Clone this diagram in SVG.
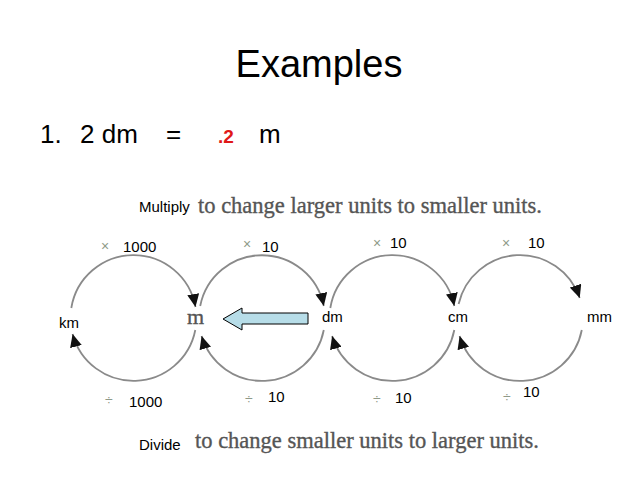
<svg xmlns="http://www.w3.org/2000/svg" width="638" height="479" viewBox="0 0 638 479">
<style>
.sans{font-family:"Liberation Sans",Arial,sans-serif;fill:#000}
.serif{font-family:"Liberation Serif","Times New Roman",serif;fill:#555;stroke:#555;stroke-width:0.35}
.sym{font-family:"Liberation Sans",Arial,sans-serif;fill:#8f9a88;font-size:14px}
.num{font-family:"Liberation Sans",Arial,sans-serif;fill:#000;font-size:15px}
.unit{font-family:"Liberation Sans",Arial,sans-serif;fill:#000;font-size:15px}
.arc{fill:none;stroke:#8a8a8a;stroke-width:1.8;marker-end:url(#ah)}
</style>
<defs>
<marker id="ah" markerUnits="userSpaceOnUse" markerWidth="14" markerHeight="12" refX="13" refY="6" orient="auto">
<path d="M0,0 L13,6 L0,12 z" fill="#111"/>
</marker>
</defs>
<rect width="638" height="479" fill="#fff"/>
<g id="title"><text class="sans" x="319" y="77" font-size="38" text-anchor="middle">Examples</text></g>
<g id="example">
<text class="sans" x="40" y="143" font-size="26">1.</text>
<text class="sans" x="80" y="143" font-size="26">2 dm</text>
<text class="sans" x="166" y="143" font-size="26">=</text>
<text x="218" y="143" font-size="19" font-weight="bold" fill="#e01818" font-family="Liberation Sans,Arial,sans-serif">.2</text>
<text class="sans" x="259" y="143" font-size="26">m</text>
</g>
<g id="multiply">
<text class="sans" x="139" y="212" font-size="15">Multiply</text>
<text class="serif" x="198" y="213" font-size="22.5">to change larger units to smaller units.</text>
</g>
<g id="divide">
<text class="sans" x="139" y="450" font-size="15">Divide</text>
<text class="serif" x="195" y="448" font-size="22.5">to change smaller units to larger units.</text>
</g>
<g id="connectors">
<path class="arc" d="M71.3,308 A63,63 0 0 1 195.5,307"/>
<path class="arc" d="M200.2,306 A63,63 0 0 1 323.8,306"/>
<path class="arc" d="M330.3,308 A63,63 0 0 1 454.3,306"/>
<path class="arc" d="M458.6,304 A63,63 0 0 1 579.7,298"/>
<path class="arc" d="M195.3,330 A63,63 0 0 1 72.6,334"/>
<path class="arc" d="M323.8,330 A63,63 0 0 1 201.6,336"/>
<path class="arc" d="M454.3,330 A63,63 0 0 1 332.1,336"/>
<path class="arc" d="M581.8,330 A63,63 0 0 1 459.6,336"/>
</g>
<g id="node-km"><text class="unit" x="59" y="328">km</text></g>
<g id="node-m"><text class="serif" x="187" y="324" font-size="22">m</text></g>
<g id="node-dm"><text class="unit" x="322" y="322">dm</text></g>
<g id="node-cm"><text class="unit" x="448" y="322">cm</text></g>
<g id="node-mm"><text class="unit" x="587" y="322">mm</text></g>
<g id="block-arrow"><polygon points="223,319 242,308 242,313 308,313 308,324 242,324 242,330" fill="#b7dde8" stroke="#000" stroke-width="1"/></g>
<g id="labels-top">
<text class="sym" x="101" y="251">×</text><text class="num" x="123" y="252">1000</text>
<text class="sym" x="243" y="249">×</text><text class="num" x="262" y="252">10</text>
<text class="sym" x="373" y="248">×</text><text class="num" x="390" y="248">10</text>
<text class="sym" x="502" y="248">×</text><text class="num" x="528" y="248">10</text>
</g>
<g id="labels-bottom">
<text class="sym" x="105" y="405">÷</text><text class="num" x="129" y="407">1000</text>
<text class="sym" x="245" y="404">÷</text><text class="num" x="268" y="402">10</text>
<text class="sym" x="373" y="404">÷</text><text class="num" x="395" y="403">10</text>
<text class="sym" x="503" y="402">÷</text><text class="num" x="523" y="397">10</text>
</g>
</svg>
